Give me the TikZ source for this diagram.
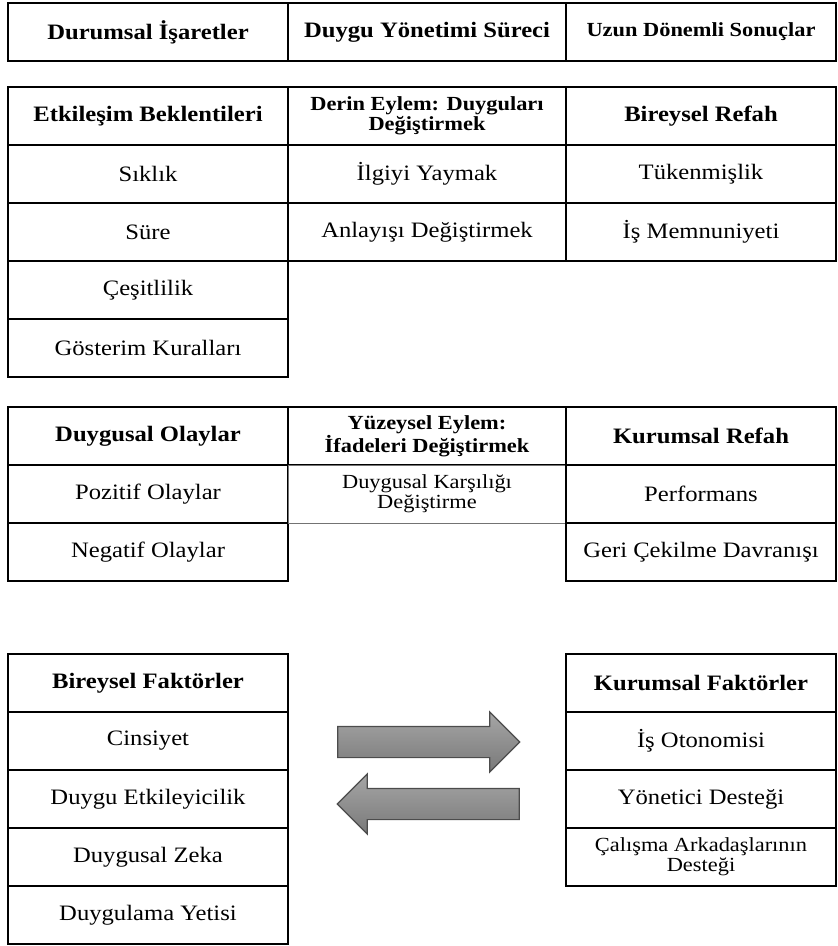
\documentclass[tikz,border=0pt]{standalone}
\usepackage{fontspec}
\setmainfont{Liberation Serif}[FakeStretch=1.12]
\usepackage{xcolor}
\usepackage{tikz}
\usetikzlibrary{positioning, shapes.arrows}

\begin{document}
\begin{tikzpicture}[node distance=0pt,
    cell/.style={draw, line width=0.9pt, outer sep=0pt, inner sep=2pt, minimum height=29pt, align=center, font=\fontsize{11}{11.5}\selectfont},
    head/.style={cell, font=\fontsize{11}{11.5}\selectfont\bfseries},
    smallhead/.style={cell, font=\fontsize{10}{10}\selectfont\bfseries},
    smallcell/.style={cell, font=\fontsize{10}{10}\selectfont},
    colA/.style={minimum width=140pt},
    colB/.style={minimum width=139pt},
    colC/.style={minimum width=135pt},
    blockarrow/.style={single arrow, draw=black!70, line width=0.6pt, top color=gray!70, bottom color=gray!95!black, minimum height=91pt, inner xsep=0pt, inner ysep=7.5pt, single arrow head extend=7.25pt, single arrow head indent=0pt}]
                \useasboundingbox (0,0) rectangle (419pt,-473pt);

                % basliklar
                \node[head, colA, anchor=north west] (durumsal) at (4pt,-1.5pt) {Durumsal İşaretler};
                \node[head, colB, right=of durumsal] (surec) {Duygu Yönetimi Süreci};
                \node[smallhead, colC, right=of surec] (sonuclar) {Uzun Dönemli Sonuçlar};

                % etkilesim beklentileri
                \node[head, colA, anchor=north west] (etkilesim) at (4pt,-43.5pt) {Etkileşim Beklentileri};
                \node[cell, colA, below=of etkilesim] (siklik) {Sıklık};
                \node[cell, colA, below=of siklik] (sure) {Süre};
                \node[cell, colA, below=of sure] (cesitlilik) {Çeşitlilik};
                \node[cell, colA, below=of cesitlilik] (gosterim) {Gösterim Kuralları};
                \node[smallhead, colB, right=of etkilesim] (derin) {Derin Eylem: Duyguları\\Değiştirmek};
                \node[cell, colB, below=of derin] (ilgi) {İlgiyi Yaymak};
                \node[cell, colB, below=of ilgi] (anlayis) {Anlayışı Değiştirmek};
                \node[head, colC, right=of derin] (bireyselrefah) {Bireysel Refah};
                \node[cell, colC, below=of bireyselrefah] (tukenmislik) {Tükenmişlik};
                \node[cell, colC, below=of tukenmislik] (memnuniyet) {İş Memnuniyeti};

                % duygusal olaylar
                \node[head, colA, anchor=north west] (olaylar) at (4pt,-203.5pt) {Duygusal Olaylar};
                \node[cell, colA, below=of olaylar] (pozitif) {Pozitif Olaylar};
                \node[cell, colA, below=of pozitif] (negatif) {Negatif Olaylar};
                \node[smallhead, colB, right=of olaylar] (yuzeysel) {Yüzeysel Eylem:\\İfadeleri Değiştirmek};
                \node[smallcell, colB, below=of yuzeysel, draw=black!55, line width=0.4pt] (karsilik) {Duygusal Karşılığı\\Değiştirme};
                \node[head, colC, right=of yuzeysel] (kurumsalrefah) {Kurumsal Refah};
                \node[cell, colC, below=of kurumsalrefah] (performans) {Performans};
                \node[cell, colC, below=of performans] (geri) {Geri Çekilme Davranışı};

                % faktorler
                \node[head, colA, anchor=north west] (bireysel) at (4pt,-327pt) {Bireysel Faktörler};
                \node[cell, colA, below=of bireysel] (cinsiyet) {Cinsiyet};
                \node[cell, colA, below=of cinsiyet] (etkileyicilik) {Duygu Etkileyicilik};
                \node[cell, colA, below=of etkileyicilik] (zeka) {Duygusal Zeka};
                \node[cell, colA, below=of zeka] (yeti) {Duygulama Yetisi};
                \node[head, colC, anchor=north west] (kurumsal) at (283pt,-327pt) {Kurumsal Faktörler};
                \node[cell, colC, below=of kurumsal] (otonomi) {İş Otonomisi};
                \node[cell, colC, below=of otonomi] (yonetici) {Yönetici Desteği};
                \node[smallcell, colC, below=of yonetici] (arkadas) {Çalışma Arkadaşlarının\\Desteği};

                \node[blockarrow] (ileri) at (210.5pt,-371pt) {};
                \node[blockarrow, shape border rotate=180] (geriok) at (218pt,-402pt) {};
              \end{tikzpicture}
\end{document}
